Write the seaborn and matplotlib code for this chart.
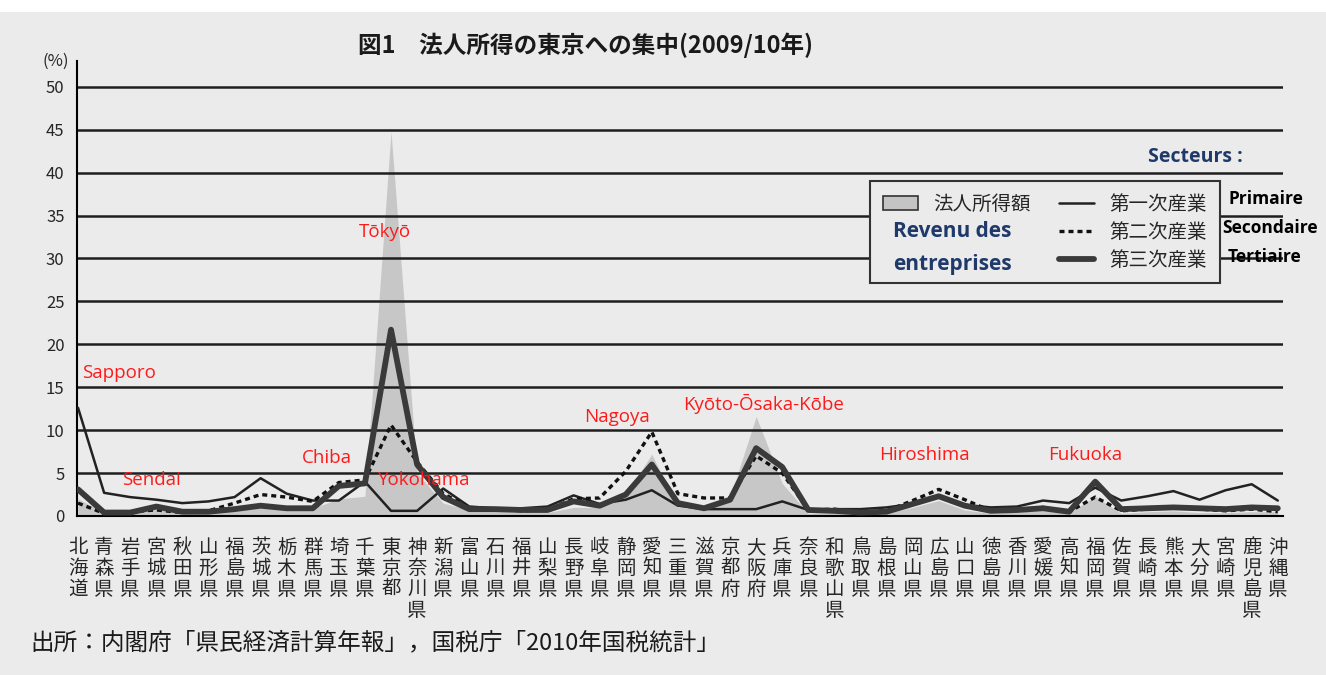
import numpy as np
import pandas as pd
import matplotlib
matplotlib.use("Agg")
import matplotlib.pyplot as plt
import seaborn as sns
from matplotlib.patches import Patch, Rectangle
from matplotlib.lines import Line2D

# 都道府県
prefectures = ["北海道", "青森県", "岩手県", "宮城県", "秋田県", "山形県", "福島県",
               "茨城県", "栃木県", "群馬県", "埼玉県", "千葉県", "東京都", "神奈川県",
               "新潟県", "富山県", "石川県", "福井県", "山梨県", "長野県", "岐阜県",
               "静岡県", "愛知県", "三重県", "滋賀県", "京都府", "大阪府", "兵庫県",
               "奈良県", "和歌山県", "鳥取県", "島根県", "岡山県", "広島県", "山口県",
               "徳島県", "香川県", "愛媛県", "高知県", "福岡県", "佐賀県", "長崎県",
               "熊本県", "大分県", "宮崎県", "鹿児島県", "沖縄県"]

# 法人所得額 (%)
corp_income = [2.0, 0.4, 0.4, 0.9, 0.3, 0.3, 0.7, 1.0, 0.8, 0.9,
               2.0, 2.3, 44.8, 5.0, 1.5, 0.7, 0.6, 0.4, 0.4, 1.0,
               1.0, 2.5, 7.2, 1.0, 0.8, 2.2, 11.6, 3.8, 0.3, 0.4,
               0.3, 0.3, 1.0, 1.8, 0.7, 0.3, 0.5, 0.6, 0.3, 2.3,
               0.3, 0.5, 0.6, 0.4, 0.4, 0.5, 0.5]

# 第一次産業
primary = [12.6, 2.7, 2.2, 1.9, 1.5, 1.7, 2.2, 4.4, 2.6, 1.8,
           1.8, 4.0, 0.6, 0.6, 3.2, 1.1, 0.9, 0.9, 1.1, 2.4,
           1.4, 1.9, 3.0, 1.2, 0.8, 0.8, 0.8, 1.7, 0.7, 0.8,
           0.8, 1.0, 1.4, 2.2, 1.3, 1.0, 1.1, 1.8, 1.5, 3.3,
           1.8, 2.3, 2.9, 1.9, 3.0, 3.7, 1.8]

# 第二次産業
secondary = [1.5, 0.3, 0.5, 0.7, 0.4, 0.6, 1.5, 2.5, 2.2, 1.7,
             3.9, 4.2, 10.6, 6.3, 2.6, 1.0, 0.8, 0.6, 0.7, 2.0,
             2.1, 5.2, 9.8, 2.6, 2.1, 2.1, 7.0, 5.0, 0.7, 0.8,
             0.4, 0.6, 1.8, 3.1, 1.9, 0.6, 0.7, 1.0, 0.5, 2.2,
             0.6, 0.8, 1.0, 0.8, 0.6, 0.8, 0.5]

# 第三次産業
tertiary = [3.1, 0.4, 0.4, 1.1, 0.5, 0.5, 0.8, 1.2, 0.9, 0.9,
            3.5, 3.8, 21.7, 6.0, 2.2, 0.8, 0.8, 0.7, 0.7, 1.7,
            1.2, 2.5, 6.0, 1.5, 0.9, 1.9, 7.9, 5.7, 0.7, 0.6,
            0.4, 0.5, 1.4, 2.3, 1.2, 0.6, 0.7, 0.9, 0.5, 4.0,
            0.8, 0.9, 1.0, 0.9, 0.8, 1.0, 0.9]

y_ticks = list(range(0, 51, 5))

sns.set_theme(style="white")
plt.rcParams["font.family"] = ["Noto Sans CJK JP", "DejaVu Sans"]

paper = "#ebebeb"
W, H = 1326, 675
fig = plt.figure(figsize=(W / 100, H / 100), dpi=100, facecolor=paper)
fig.patches.append(Rectangle((0, 1 - 12 / H), 1, 12 / H, transform=fig.transFigure,
                             facecolor="white", edgecolor="none", zorder=0))
ax = fig.add_axes([77 / W, 159 / H, 1206 / W, 455 / H])
ax.set_facecolor(paper)

df = pd.DataFrame({"pref": np.arange(len(prefectures)), "income": corp_income,
                   "primary": primary, "secondary": secondary, "tertiary": tertiary})

ax.fill_between(df["pref"], df["income"], color="#c4c4c4", alpha=0.9, lw=0, zorder=1)
sns.lineplot(data=df, x="pref", y="primary", ax=ax, color="#222222", lw=1.8, zorder=3)
sns.lineplot(data=df, x="pref", y="secondary", ax=ax, color="#111111", lw=2.4,
             linestyle=(0, (1.5, 1.2)), zorder=3)
sns.lineplot(data=df, x="pref", y="tertiary", ax=ax, color="#3a3a3a", lw=4.2, zorder=4)

ax.set_xlim(-0.04, 46.2)
ax.set_ylim(0, 53)
ax.set_yticks(y_ticks)
ax.yaxis.grid(True, color="#1e1e1e", lw=1.8)
ax.set_axisbelow("line")
for s in ["top", "right"]:
    ax.spines[s].set_visible(False)
for s in ["left", "bottom"]:
    ax.spines[s].set_color("black")
    ax.spines[s].set_linewidth(1.5)

ax.set_xticks(df["pref"])
ax.set_xticklabels(["\n".join(p) for p in prefectures], linespacing=1.0, fontsize=14)
ax.tick_params(axis="x", direction="out", length=9, width=1.5, color="black", pad=6)
ax.tick_params(axis="y", direction="out", length=6, width=1.5, color="black", pad=3,
               labelsize=12)
ax.set_xlabel("")
ax.set_ylabel("")
ax.text(-0.018, 1.0, "(%)", transform=ax.transAxes, ha="center", va="center", fontsize=12)

# 地名 (rouge)
cities = [("Sapporo", 0.15, 16.7), ("Sendai", 1.7, 4.2), ("Chiba", 8.6, 6.8),
          ("Tōkyō", 10.75, 33.1), ("Yokohama", 11.5, 4.2), ("Nagoya", 19.4, 11.5),
          ("Kyōto-Ōsaka-Kōbe", 23.2, 13.05), ("Hiroshima", 30.7, 7.1),
          ("Fukuoka", 37.2, 7.1)]
for name, cx, cy in cities:
    ax.text(cx, cy, name, color="#ff1a1a", fontsize=13.5, family="Open Sans",
            ha="left", va="center", zorder=6)

# 凡例
handles = [Patch(facecolor="#c4c4c4", edgecolor="#333333", lw=1.2),
           Line2D([], [], color="none"), Line2D([], [], color="none"),
           Line2D([], [], color="#222222", lw=1.8),
           Line2D([], [], color="#111111", lw=2.4, linestyle=(0, (1.5, 1.2))),
           Line2D([], [], color="#3a3a3a", lw=4.2)]
labels = ["法人所得額", " ", " ", "第一次産業", "第二次産業", "第三次産業"]
leg = ax.legend(handles, labels, ncol=2, loc="upper left",
                bbox_to_anchor=(870 / W, 1 - 181 / H), bbox_transform=fig.transFigure,
                borderaxespad=0, frameon=True, fancybox=False, edgecolor="#333333",
                facecolor=paper, framealpha=1, fontsize=14, handlelength=1.8,
                handletextpad=0.8, columnspacing=1.45, labelspacing=0.36, borderpad=0.65)
leg.get_frame().set_linewidth(1.5)

blue = "#1f3a6a"
fig.text(893 / W, 1 - 232 / H, "Revenu des", color=blue, fontsize=15, weight="bold",
         family="Open Sans", va="center")
fig.text(893 / W, 1 - 264 / H, "entreprises", color=blue, fontsize=15, weight="bold",
         family="Open Sans", va="center")
fig.text(1148 / W, 1 - 157 / H, "Secteurs :", color=blue, fontsize=14, weight="bold",
         family="Open Sans", va="center")
for txt, px, py in [("Primaire", 1228, 199), ("Secondaire", 1222, 228), ("Tertiaire", 1228, 257)]:
    fig.text(px / W, 1 - py / H, txt, color="black", fontsize=12.5, weight="bold",
             family="Open Sans", va="center")

fig.text(586 / W, 1 - 45 / H, "図1　法人所得の東京への集中(2009/10年)", ha="center",
         va="center", fontsize=17, weight="bold", color="#1a1a1a")
fig.text(30 / W, 1 - 643 / H, "出所：内閣府「県民経済計算年報」，国税庁「2010年国税統計」",
         ha="left", va="center", fontsize=17, color="#1a1a1a")

fig.savefig("out.png", dpi=100, facecolor=paper)
